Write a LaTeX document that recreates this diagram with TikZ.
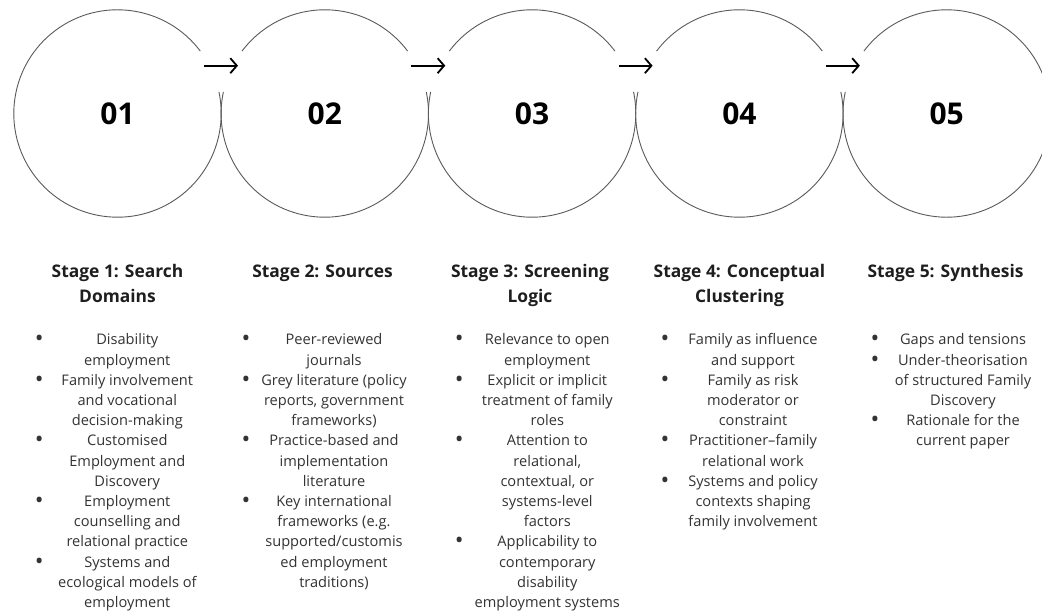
\documentclass[tikz,border=0pt]{standalone}
\usepackage{fontspec}
\setmainfont{Open Sans}
\usepackage{array}
\usetikzlibrary{arrows.meta,calc}
\definecolor{ringgray}{HTML}{5A5A5A}
\definecolor{headtext}{HTML}{1E1E1E}
\definecolor{bodytext}{HTML}{333333}
\newcommand\bul{{\fontsize{18}{20.2}\selectfont\bfseries\textbullet}}
\newcommand\stagelist[1]{{\fontsize{14.6}{20.2}\selectfont\color{bodytext}%
\begin{tabular}[t]{@{}>{\centering\arraybackslash}p{10pt}@{}>{\centering\arraybackslash}p{166pt}@{}}#1\end{tabular}}}
\newcommand\stagehead[1]{{\fontsize{17.4}{24.5}\selectfont\bfseries\color{headtext}%
\begin{tabular}[t]{@{}c@{}}#1\end{tabular}}}
\tikzset{
  ring/.style={draw=ringgray, line width=0.9pt},
  stagecircle/.style={circle, minimum size=207.4pt, inner sep=0pt, outer sep=0pt,
    font=\fontsize{30}{32}\selectfont\bfseries, text=black},
  flow/.style={draw=black, line width=1.8pt, -{Straight Barb[length=6.5pt,width=15pt,line width=1.8pt]}},
  listnode/.style={anchor=base west, inner sep=0pt, outer sep=0pt},
  headnode/.style={anchor=base, inner sep=0pt, outer sep=0pt}
}
\begin{document}
\begin{tikzpicture}[x=1pt,y=1pt]
\useasboundingbox (0,0) rectangle (1042,613);
\fill[white] (0,0) rectangle (1042,613);

% circles
\node[stagecircle] (c1) at (117.5,499.5) {01};
\node[stagecircle] (c2) at (324.8,499.5) {02};
\node[stagecircle] (c3) at (532.1,499.5) {03};
\node[stagecircle] (c4) at (739.4,499.5) {04};
\node[stagecircle] (c5) at (946.7,499.5) {05};

\draw[ring] (c1.37) arc[start angle=37, end angle=372, radius=103.7pt];
\foreach \c in {c2,c3,c4}{
  \draw[ring] (\c.37) arc[start angle=37, end angle=143, radius=103.7pt];
  \draw[ring] (\c.168) arc[start angle=168, end angle=372, radius=103.7pt];
}
\draw[ring] (c5.168) arc[start angle=168, end angle=503, radius=103.7pt];

% arrows
\coordinate (s1) at ($(c1.center)+(86.5,47.8)$);
\coordinate (e1) at ($(c2.center)+(-86.8,47.8)$);
\coordinate (s2) at ($(c2.center)+(86.5,47.8)$);
\coordinate (e2) at ($(c3.center)+(-86.8,47.8)$);
\coordinate (s3) at ($(c3.center)+(86.5,47.8)$);
\coordinate (e3) at ($(c4.center)+(-86.8,47.8)$);
\coordinate (s4) at ($(c4.center)+(86.5,47.8)$);
\coordinate (e4) at ($(c5.center)+(-86.8,47.8)$);
\draw[flow] (s1) -- (e1);
\draw[flow] (s2) -- (e2);
\draw[flow] (s3) -- (e3);
\draw[flow] (s4) -- (e4);

% headings
\node[headnode] (h1) at (117.5,335) {\stagehead{Stage 1: Search\\Domains}};
\node[headnode] (h2) at (322.5,335) {\stagehead{Stage 2: Sources}};
\node[headnode] (h3) at (530,335) {\stagehead{Stage 3: Screening\\Logic}};
\node[headnode] (h4) at (739.5,335) {\stagehead{Stage 4: Conceptual\\Clustering}};
\node[headnode] (h5) at (945.5,335) {\stagehead{Stage 5: Synthesis}};

% lists
\node[listnode] (l1) at (34.3,268) {\stagelist{%
\bul & Disability\\ & employment\\
\bul & Family involvement\\ & and vocational\\ & decision-making\\
\bul & Customised\\ & Employment and\\ & Discovery\\
\bul & Employment\\ & counselling and\\ & relational practice\\
\bul & Systems and\\ & ecological models of\\ & employment}};
\node[listnode] (l2) at (241,268) {\stagelist{%
\bul & Peer-reviewed\\ & journals\\
\bul & Grey literature (policy\\ & reports, government\\ & frameworks)\\
\bul & Practice-based and\\ & implementation\\ & literature\\
\bul & Key international\\ & frameworks (e.g.\\ & supported/customis\\ & ed employment\\ & traditions)}};
\node[listnode] (l3) at (454.3,268) {\stagelist{%
\bul & Relevance to open\\ & employment\\
\bul & Explicit or implicit\\ & treatment of family\\ & roles\\
\bul & Attention to\\ & relational,\\ & contextual, or\\ & systems-level\\ & factors\\
\bul & Applicability to\\ & contemporary\\ & disability\\ & employment systems}};
\node[listnode] (l4) at (660,268) {\stagelist{%
\bul & Family as influence\\ & and support\\
\bul & Family as risk\\ & moderator or\\ & constraint\\
\bul & Practitioner–family\\ & relational work\\
\bul & Systems and policy\\ & contexts shaping\\ & family involvement}};
\node[listnode] (l5) at (870,268) {\stagelist{%
\bul & Gaps and tensions\\
\bul & Under-theorisation\\ & of structured Family\\ & Discovery\\
\bul & Rationale for the\\ & current paper}};
\end{tikzpicture}
\end{document}
